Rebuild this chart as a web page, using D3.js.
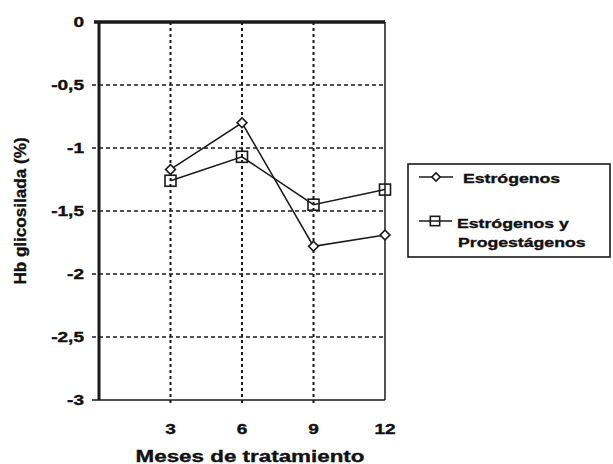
<!DOCTYPE html>
<html>
<head>
<meta charset="utf-8">
<script src="https://cdn.jsdelivr.net/npm/d3@7"></script>
<style>
  html, body { margin: 0; padding: 0; background: #fff; }
  text { font-family: "Liberation Sans", Arial, sans-serif; font-weight: bold; fill: #111;
         stroke: #111; stroke-width: 0.35px; }
</style>
</head>
<body>
<svg id="chart" width="613" height="464"></svg>
<script>
// Hb glicosilada vs meses de tratamiento
const MONTHS = [3, 6, 9, 12];
const ESTROGENOS = [-1.17, -0.80, -1.78, -1.69];
const ESTR_PROG = [-1.26, -1.07, -1.45, -1.33];
const Y_TICKS = [0, -0.5, -1, -1.5, -2, -2.5, -3];
const Y_LABELS = ['0', '-0,5', '-1', '-1,5', '-2', '-2,5', '-3'];

const svg = d3.select('#chart');
const ink = '#1a1a1a';
const SX = 1.36;   // the original lettering is wide

const x = d3.scaleLinear().domain([0, 12]).range([99, 385]);
const y = d3.scaleLinear().domain([-3, 0]).range([400, 22]);

// wide text helper: anchor at (tx,ty), then stretch horizontally
function wideText(parent, tx, ty, str, size, anchor, sx) {
    return parent.append('text')
        .attr('transform', `translate(${tx},${ty}) scale(${sx || SX},1)`)
        .attr('text-anchor', anchor || 'start')
        .attr('font-size', size + 'px')
        .text(str);
}

// ── Gridlines ──────────────────────────────────────────────
svg.append('g').selectAll('line')
    .data(Y_TICKS.filter(v => v < 0 && v > -3))
    .join('line')
    .attr('x1', 92).attr('x2', x(12))
    .attr('y1', d => y(d)).attr('y2', d => y(d))
    .attr('stroke', ink).attr('stroke-width', 1.4)
    .attr('stroke-dasharray', '4,3');

svg.append('g').selectAll('line')
    .data(MONTHS.slice(0, 3))
    .join('line')
    .attr('x1', d => x(d)).attr('x2', d => x(d))
    .attr('y1', y(0)).attr('y2', y(-3) + 5)
    .attr('stroke', ink).attr('stroke-width', 2)
    .attr('stroke-dasharray', '3,3');

// ── Frame ──────────────────────────────────────────────────
svg.append('line') // bottom axis
    .attr('x1', 92).attr('x2', x(12))
    .attr('y1', y(-3)).attr('y2', y(-3))
    .attr('stroke', ink).attr('stroke-width', 1.5);
svg.append('line') // right edge
    .attr('x1', x(12)).attr('x2', x(12))
    .attr('y1', y(0)).attr('y2', y(-3))
    .attr('stroke', ink).attr('stroke-width', 1.5);
svg.append('line') // left axis
    .attr('x1', x(0)).attr('x2', x(0))
    .attr('y1', y(0)).attr('y2', y(-3))
    .attr('stroke', ink).attr('stroke-width', 3);
svg.append('line') // top
    .attr('x1', 94).attr('x2', x(12))
    .attr('y1', y(0)).attr('y2', y(0))
    .attr('stroke', ink).attr('stroke-width', 3.5);

// ── Tick labels ────────────────────────────────────────────
const yl = svg.append('g');
Y_TICKS.forEach((v, i) => {
    wideText(yl, 84, y(v) + 5, Y_LABELS[i], 14, 'end');
});

const xl = svg.append('g');
MONTHS.forEach(m => {
    wideText(xl, x(m), 434, String(m), 14, 'middle');
});

wideText(svg, 250, 462, 'Meses de tratamiento', 16, 'middle', 1.4);

svg.append('text')
    .attr('transform', 'translate(26,211) rotate(-90) scale(1.07,1)')
    .attr('text-anchor', 'middle')
    .attr('font-size', '16px')
    .text('Hb glicosilada (%)');

// ── Series ─────────────────────────────────────────────────
const line = d3.line().x(d => x(d[0])).y(d => y(d[1]));
const square = d3.symbol().type(d3.symbolSquare);

function drawSeries(vals, marker) {
    const pts = MONTHS.map((m, i) => [m, vals[i]]);
    svg.append('path').datum(pts)
        .attr('d', line)
        .attr('fill', 'none').attr('stroke', ink).attr('stroke-width', 1.6);
    const g = svg.append('g');
    pts.forEach(p => marker(g, x(p[0]), y(p[1]), 1));
}

function diamondMark(g, cx, cy, k) {
    g.append('path').attr('d', square.size(48 * k * k)())
        .attr('transform', `translate(${cx},${cy}) rotate(45)`)
        .attr('fill', '#fff').attr('stroke', ink).attr('stroke-width', 1.6);
}
function squareMark(g, cx, cy, k) {
    const s = 11 * k;
    g.append('rect')
        .attr('x', cx - s / 2).attr('y', cy - s / 2)
        .attr('width', s).attr('height', s)
        .attr('fill', 'none').attr('stroke', ink).attr('stroke-width', 1.6);
}

drawSeries(ESTR_PROG, squareMark);
drawSeries(ESTROGENOS, diamondMark);

// ── Legend ─────────────────────────────────────────────────
const lg = svg.append('g');
lg.append('rect')
    .attr('x', 408).attr('y', 164).attr('width', 202).attr('height', 93)
    .attr('fill', '#fff').attr('stroke', ink).attr('stroke-width', 1.6);

lg.append('line').attr('x1', 419).attr('x2', 453).attr('y1', 177).attr('y2', 177)
    .attr('stroke', ink).attr('stroke-width', 1.6);
diamondMark(lg, 436, 177, 0.85);
wideText(lg, 463, 183, 'Estrógenos', 13);

lg.append('line').attr('x1', 419).attr('x2', 452).attr('y1', 221).attr('y2', 221)
    .attr('stroke', ink).attr('stroke-width', 1.6);
squareMark(lg, 435, 221, 0.85);
wideText(lg, 457, 228, 'Estrógenos y', 13);
wideText(lg, 458, 247, 'Progestágenos', 13);
</script>
</body>
</html>
